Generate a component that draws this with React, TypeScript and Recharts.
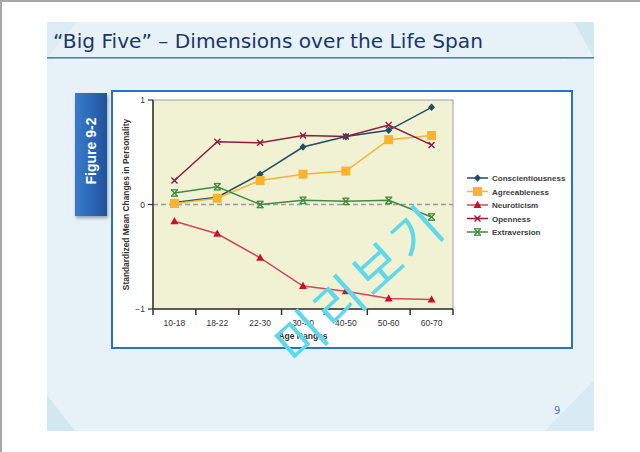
import React from 'react';
import { LineChart, Line, XAxis, YAxis, ReferenceLine, ReferenceArea, Legend } from 'recharts';

const categories = ['10-18', '18-22', '22-30', '30-40', '40-50', '50-60', '60-70'];
const conscientiousness = [0.02, 0.07, 0.29, 0.55, 0.65, 0.71, 0.93];
const agreeableness = [0.01, 0.06, 0.23, 0.29, 0.32, 0.62, 0.66];
const neuroticism = [-0.16, -0.28, -0.51, -0.78, -0.83, -0.9, -0.91];
const openness = [0.23, 0.6, 0.59, 0.66, 0.65, 0.76, 0.57];
const extraversion = [0.11, 0.17, 0.0, 0.04, 0.03, 0.04, -0.12];
const yTicks = [-1, 0, 1];
const yTickLabels = ['\u22121', '0', '1'];

const seriesNames = ['Conscientiousness', 'Agreeableness', 'Neuroticism', 'Openness', 'Extraversion'];
const seriesKeys = ['conscientiousness', 'agreeableness', 'neuroticism', 'openness', 'extraversion'];
const lineColors = ['#1f4c66', '#f8b333', '#d2455f', '#8b1d3d', '#3f8a3f'];
const markerColors = ['#1f4c66', '#f8b333', '#c8102e', '#8b1d3d', '#3f8a3f'];
const markerTypes = ['diamond', 'square', 'triangle', 'cross', 'boxcross'];

const values = [conscientiousness, agreeableness, neuroticism, openness, extraversion];

const data = categories.map((c, i) => {
  const row: any = { x: i + 0.5, cat: c };
  seriesKeys.forEach((k, j) => {
    row[k] = values[j][i];
  });
  return row;
});

const boundaryTicks = [...categories.map((_, i) => i), categories.length];
const centerTicks = categories.map((_, i) => i + 0.5);
const tickDepth = -1.058;

function Marker({ type, cx, cy, color }: { type: string; cx: number; cy: number; color: string }) {
  if (cx == null || cy == null) return null;
  switch (type) {
    case 'diamond':
      return <polygon points={`${cx},${cy - 3.8} ${cx + 3.5},${cy} ${cx},${cy + 3.8} ${cx - 3.5},${cy}`} fill={color} />;
    case 'square':
      return <rect x={cx - 4.5} y={cy - 4.5} width={9} height={9} fill={color} />;
    case 'triangle':
      return <polygon points={`${cx},${cy - 4.2} ${cx + 4},${cy + 3} ${cx - 4},${cy + 3}`} fill={color} />;
    case 'cross':
      return (
        <g stroke={color} strokeWidth={1.4}>
          <line x1={cx - 3} y1={cy - 3} x2={cx + 3} y2={cy + 3} />
          <line x1={cx - 3} y1={cy + 3} x2={cx + 3} y2={cy - 3} />
        </g>
      );
    case 'boxcross':
      return (
        <g stroke={color} strokeWidth={1.3} fill="none">
          <line x1={cx - 3} y1={cy - 3} x2={cx + 3} y2={cy + 3} />
          <line x1={cx - 3} y1={cy + 3} x2={cx + 3} y2={cy - 3} />
          <line x1={cx - 3.5} y1={cy - 3.2} x2={cx + 3.5} y2={cy - 3.2} />
          <line x1={cx - 3.5} y1={cy + 3.2} x2={cx + 3.5} y2={cy + 3.2} />
        </g>
      );
    default:
      return null;
  }
}

const renderLegend = () => (
  <svg width={115} height={72} style={{ display: 'block' }}>
    {seriesNames.map((name, i) => {
      const y = 7 + i * 13.5;
      return (
        <g key={name}>
          <line x1={2} y1={y} x2={23} y2={y} stroke={lineColors[i]} strokeWidth={1.5} />
          <Marker type={markerTypes[i]} cx={12.5} cy={y} color={markerColors[i]} />
          <text x={27} y={y + 3} fontSize={8} fontWeight="bold" fill="#3c3c3c" fontFamily="'Liberation Sans', Arial, sans-serif">
            {name}
          </text>
        </g>
      );
    })}
  </svg>
);

const yLabelContent = (props: any) => {
  const vb = props.viewBox || {};
  const x = (vb.x ?? 0) + 3;
  const y = (vb.y ?? 0) + (vb.height ?? 0) / 2;
  return (
    <text
      x={x}
      y={y}
      transform={`rotate(-90, ${x}, ${y})`}
      textAnchor="middle"
      dominantBaseline="central"
      fontSize={8.4}
      fontWeight="bold"
      fill="#333"
      fontFamily="'Liberation Sans', Arial, sans-serif"
    >
      Standardized Mean Changes in Personality
    </text>
  );
};

export default function App() {
  const font = "'Liberation Sans', Arial, sans-serif";
  return (
    <div style={{ position: 'absolute', left: 0, top: 0, width: 640, height: 452, background: '#ffffff', overflow: 'hidden', fontFamily: font }}>
      {/* outer border */}
      <div style={{ position: 'absolute', left: 0, top: 0, width: 640, height: 2, background: '#a8a8a8' }} />
      <div style={{ position: 'absolute', left: 0, top: 0, width: 2, height: 452, background: '#a8a8a8' }} />
      {/* slide panel */}
      <div style={{ position: 'absolute', left: 47, top: 22, width: 547, height: 409, background: '#e6f2f8' }} />
      <div style={{ position: 'absolute', left: 574, top: 22, width: 20, height: 36, background: '#d3e7f1', clipPath: 'polygon(0 0, 100% 0, 100% 100%)' }} />
      <div style={{ position: 'absolute', left: 47, top: 22, width: 30, height: 36, background: '#dbecf4', clipPath: 'polygon(0 0, 100% 0, 0 100%)' }} />
      <div style={{ position: 'absolute', left: 47, top: 395, width: 28, height: 36, background: '#d3e7f1', clipPath: 'polygon(0 0, 100% 100%, 0 100%)' }} />
      <div style={{ position: 'absolute', left: 545, top: 380, width: 49, height: 51, background: '#d8eaf3', clipPath: 'polygon(100% 0, 100% 100%, 0 100%)' }} />
      {/* title */}
      <svg style={{ position: 'absolute', left: 0, top: 0 }} width={640} height={70}>
        <text x={53} y={48} fontSize={19} fill="#1a3668" fontFamily="'DejaVu Sans', sans-serif" textLength={430} lengthAdjust="spacingAndGlyphs">
          “Big Five” – Dimensions over the Life Span
        </text>
        <rect x={47} y={57} width={547} height={1.6} fill="#4a7fc6" />
        <rect x={55} y={59} width={510} height={1} fill="#ffffff" opacity={0.8} />
      </svg>
      {/* page number */}
      <div style={{ position: 'absolute', left: 554, top: 405, fontSize: 10, color: '#4f81bd', fontFamily: "'DejaVu Sans', sans-serif" }}>9</div>
      {/* figure label */}
      <div
        style={{
          position: 'absolute',
          left: 75,
          top: 93,
          width: 32,
          height: 123,
          background: 'linear-gradient(90deg, #3a7bc8 0%, #2a64b0 60%, #1f539c 100%)',
          boxShadow: '1px 2px 3px rgba(0,0,0,0.35)',
        }}
      />
      <svg style={{ position: 'absolute', left: 75, top: 93 }} width={32} height={123}>
        <text
          x={16}
          y={58}
          transform="rotate(-90, 16, 58)"
          textAnchor="middle"
          dominantBaseline="central"
          fontSize={14}
          fontWeight="bold"
          fill="#ffffff"
          fontFamily={font}
        >
          Figure 9-2
        </text>
      </svg>
      {/* chart box */}
      <div style={{ position: 'absolute', left: 111, top: 90, width: 458, height: 255, background: '#ffffff', border: '2px solid #2a72c8' }} />
      <div style={{ position: 'absolute', left: 0, top: 0 }}>
        <LineChart width={640} height={452} data={data} margin={{ top: 100, right: 187, bottom: 111, left: 123 }}>
          <XAxis
            dataKey="x"
            type="number"
            domain={[0, categories.length]}
            ticks={centerTicks}
            tickFormatter={(v: number) => categories[Math.round(v - 0.5)]}
            tickLine={false}
            axisLine={{ stroke: '#333', strokeWidth: 1.5 }}
            tickSize={0}
            tickMargin={11}
            height={32}
            tick={{ fontSize: 8.5, fill: '#333', fontFamily: font }}
            label={{ value: 'Age Ranges', position: 'insideBottom', offset: 2, fontSize: 8.5, fontWeight: 'bold', fill: '#333', fontFamily: font }}
          />
          <YAxis
            type="number"
            domain={[-1, 1]}
            ticks={yTicks}
            tickFormatter={(v: number) => yTickLabels[yTicks.indexOf(v)]}
            width={30}
            tickSize={5}
            tickMargin={3}
            axisLine={{ stroke: '#333', strokeWidth: 1.5 }}
            tickLine={{ stroke: '#333', strokeWidth: 1.2 }}
            tick={{ fontSize: 8.5, fill: '#333', fontFamily: font }}
            label={{ content: yLabelContent }}
          />
          <ReferenceArea
            x1={0}
            x2={categories.length}
            y1={-1}
            y2={1}
            fill="#f1f2d4"
            fillOpacity={1}
            stroke="#a0a0a0"
            strokeWidth={1}
            ifOverflow="visible"
          />
          {boundaryTicks.map((t) => (
            <ReferenceLine
              key={`bt-${t}`}
              segment={[
                { x: t, y: -1 },
                { x: t, y: tickDepth },
              ]}
              stroke="#333"
              strokeWidth={1.5}
              ifOverflow="visible"
            />
          ))}
          <ReferenceLine y={0} stroke="#9a9a9a" strokeWidth={1.5} strokeDasharray="5 3" />
          {seriesKeys.map((k, i) => (
            <Line
              key={k}
              dataKey={k}
              stroke={lineColors[i]}
              strokeWidth={1.5}
              isAnimationActive={false}
              dot={(p: any) => <Marker key={`${k}-${p.index}`} type={markerTypes[i]} cx={p.cx} cy={p.cy} color={markerColors[i]} />}
              activeDot={false}
            />
          ))}
          <Legend
            layout="vertical"
            align="center"
            verticalAlign="middle"
            content={renderLegend}
            wrapperStyle={{ left: 465, top: 171, width: 115 }}
          />
        </LineChart>
      </div>
      {/* watermark */}
      <div
        style={{
          position: 'absolute',
          left: 358,
          top: 282,
          transform: 'translate(-50%, -50%) rotate(-42deg)',
          fontSize: 52,
          color: '#5fd9ea',
          fontFamily: "'Noto Sans CJK KR', sans-serif",
          whiteSpace: 'nowrap',
          letterSpacing: 4,
          pointerEvents: 'none',
          lineHeight: 1,
        }}
      >
        미리보기
      </div>
    </div>
  );
}
